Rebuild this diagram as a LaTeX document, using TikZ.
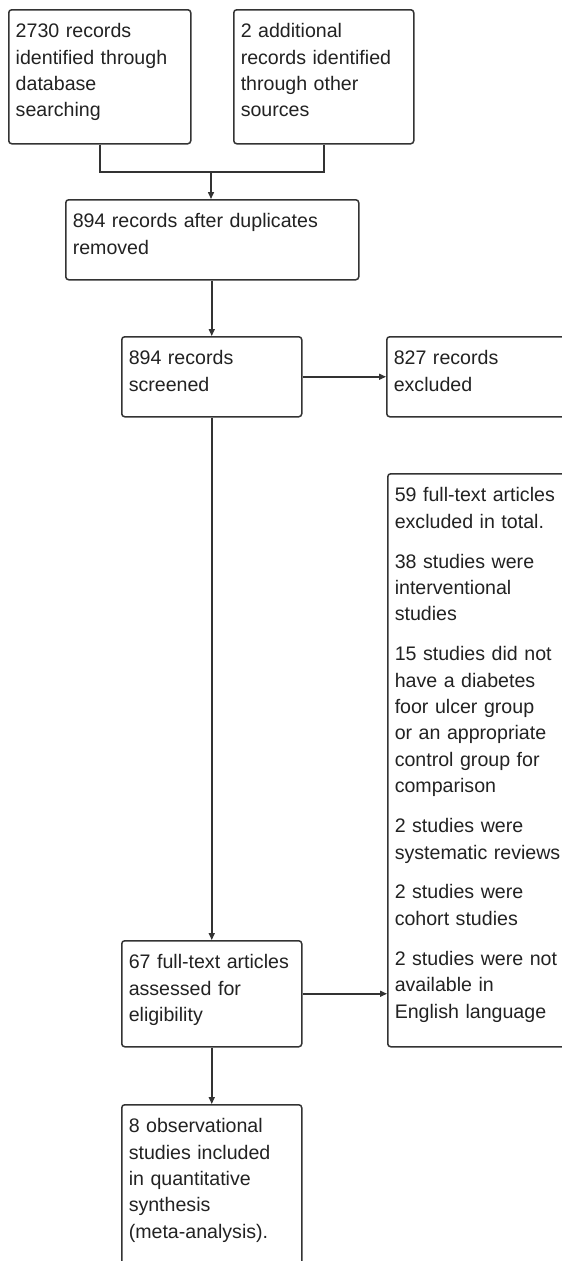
\documentclass[tikz,border=0pt]{standalone}
\usepackage{fontspec}
\setmainfont{Liberation Sans}
\usetikzlibrary{arrows.meta}
\definecolor{linec}{HTML}{333333}
\definecolor{txt}{HTML}{222222}
\begin{document}
\begin{tikzpicture}[x=1pt,y=-1pt,
  box/.style={draw=linec, line width=1.5pt, rounded corners=3pt, inner xsep=7pt, inner ysep=0pt,
    text height=28pt, align=left, anchor=north west, text=txt,
    font=\fontsize{19.6}{26.4}\selectfont},
  conn/.style={draw=linec, line width=1.5pt},
  arr/.style={conn, -{Triangle[length=7pt,width=6pt]}}]
\useasboundingbox (0,0) rectangle (562,1261);
\fill[white] (0,0) rectangle (562,1261);
\clip (0,0) rectangle (562,1261);

\node[box, text width=168pt, text depth=106pt] (A) at (8,9)
  {2730 records\\identified through\\database\\searching};
\node[box, text width=166pt, text depth=106pt] (B) at (233,9)
  {2 additional\\records identified\\through other\\sources};
\node[box, text width=279pt, text depth=52pt] (C) at (65,199)
  {894 records after duplicates\\removed};
\node[box, text width=166pt, text depth=52pt] (D) at (121,336)
  {894 records\\screened};
\node[box, text width=206pt, text depth=52pt] (E) at (386,336)
  {827 records\\excluded};
\node[box, text width=206pt, text depth=545pt] (F) at (387,473)
  {59 full-text articles\\excluded in total.\\[13.5pt]
   38 studies were\\interventional\\studies\\[13.5pt]
   15 studies did not\\have a diabetes\\foor ulcer group\\or an appropriate\\control group for\\comparison\\[13.5pt]
   2 studies were\\systematic reviews\\[13.5pt]
   2 studies were\\cohort studies\\[13.5pt]
   2 studies were not\\available in\\English language};
\node[box, text width=166pt, text depth=78pt] (G) at (121,940)
  {67 full-text articles\\assessed for\\eligibility};
\node[box, text width=166pt, text depth=172pt] (H) at (121,1104)
  {8 observational\\studies included\\in quantitative\\synthesis\\(meta-analysis).};

\coordinate (jm) at (211,172);
\draw[conn] (A.south) -- (A.south |- jm) -- (B.south |- jm) -- (B.south);
\draw[arr] (jm) -- (jm |- C.north);
\draw[arr] (D.north |- C.south) -- (D.north);
\draw[arr] (D.east) -- (D.east -| E.west);
\draw[arr] (D.south) -- (G.north);
\draw[arr] (G.east) -- (G.east -| F.west);
\draw[arr] (G.south) -- (H.north);
\end{tikzpicture}
\end{document}
